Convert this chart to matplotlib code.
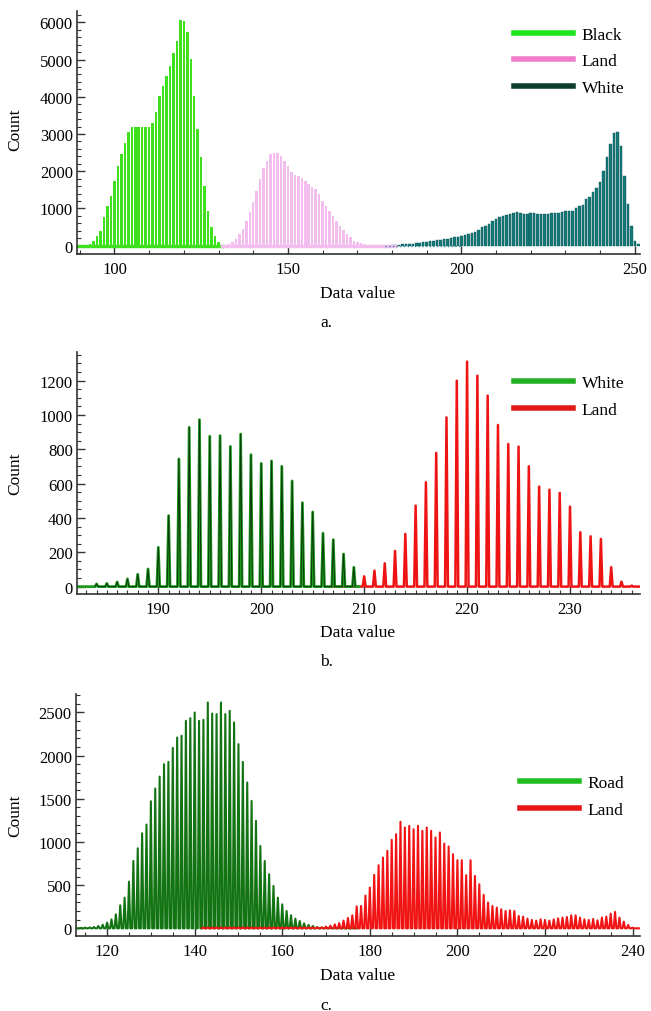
import matplotlib
matplotlib.use("Agg")
import matplotlib.pyplot as plt
import numpy as np
from matplotlib.ticker import MultipleLocator

plt.rcParams['font.family'] = ['Liberation Serif', 'DejaVu Serif']

# ---- panel a : histograms of three classes ----
a_black_x = np.arange(90, 132)
a_black_y = [10, 20, 30, 45, 134, 250, 400, 760, 1075, 1340, 1745, 2150, 2460, 2760,
             3060, 3200, 3200, 3200, 3200, 3200, 3200, 3290, 3580, 4010, 4300, 4570,
             4830, 5165, 5500, 6070, 6040, 5730, 5010, 4030, 3130, 2370, 1610, 940,
             490, 270, 90, 20]
a_land_x = np.arange(132, 181)
a_land_y = [20, 45, 90, 180, 310, 450, 670, 900, 1165, 1480, 1790, 2100, 2280, 2460,
            2500, 2490, 2420, 2280, 2130, 1990, 1900, 1860, 1810, 1750, 1660, 1570,
            1525, 1390, 1210, 1075, 945, 810, 670, 540, 430, 310, 225, 135, 90, 60,
            45, 30, 20, 15, 12, 10, 10, 10, 10]
a_white_x = np.arange(180, 252)
a_white_y = [20, 25, 30, 35, 40, 50, 55, 65, 75, 90, 105, 115, 130, 150, 165, 180,
             190, 210, 225, 240, 255, 290, 320, 350, 380, 430, 490, 530, 580, 660,
             730, 770, 800, 830, 850, 880, 900, 870, 850, 860, 880, 870, 850, 860,
             850, 860, 870, 880, 870, 900, 940, 930, 940, 1000, 1075, 1100, 1250,
             1300, 1430, 1550, 1700, 2000, 2370, 2730, 3040, 3060, 2690, 1880, 1120,
             540, 135, 35]

# ---- panel b ----
b_white_x = np.arange(184, 210)
b_white_y = [16, 19, 27, 45, 72, 103, 229, 414, 744, 928, 973, 876, 880, 817, 889,
             769, 718, 732, 701, 616, 489, 435, 311, 274, 190, 113]
b_land_x = np.arange(210, 237)
b_land_y = [60, 93, 136, 208, 307, 472, 608, 779, 986, 1200, 1311, 1229, 1113, 942,
            831, 816, 701, 583, 565, 546, 466, 317, 293, 278, 113, 29, 6]

# ---- panel c ----
c_road_x = np.arange(114, 177)
c_road_y = [5, 8, 10, 15, 27, 42, 66, 104, 162, 267, 355, 541, 780, 927, 1101, 1202,
            1472, 1619, 1758, 1901, 1928, 2090, 2210, 2230, 2403, 2434, 2500, 2403,
            2415, 2616, 2488, 2481, 2616, 2481, 2519, 2384, 2133, 1928, 1689, 1476,
            1244, 954, 780, 626, 491, 355, 278, 201, 151, 112, 85, 58, 39, 27, 15,
            10, 8, 6, 5, 5, 4, 3, 3]
c_land_x = np.arange(142, 241)
c_land_y = [10] * 28 + [20, 30, 45, 60, 90, 120] + [
    151, 255, 259, 379, 472, 619, 731, 820, 897, 1025, 1090, 1234, 1168, 1187,
    1148, 1187, 1129, 1168, 1129, 1052, 1110, 982, 948, 858, 789, 789, 615, 789,
    607, 510, 387, 298, 259, 240, 220, 201, 209, 201, 143, 135, 112, 97, 89, 104,
    97, 89, 104, 116, 124, 131, 151, 151, 124, 104, 97, 108, 93, 124, 135, 170,
    190, 124, 77, 39, 8]


def spikes(x, y, half=0.15):
    # each count drawn as a narrow triangle sitting on zero
    xs, ys = [], []
    for xi, yi in zip(x, y):
        xs += [xi - half, xi, xi + half]
        ys += [0, yi, 0]
    return np.array(xs), np.array(ys)


def style(ax, xlim, ylim, xmaj, xmin, ymaj, ymin):
    ax.set_xlim(*xlim)
    ax.set_ylim(*ylim)
    for s in ['top', 'right']:
        ax.spines[s].set_visible(False)
    for s in ['left', 'bottom']:
        ax.spines[s].set_color('#333333')
        ax.spines[s].set_linewidth(1.2)
    ax.xaxis.set_major_locator(MultipleLocator(xmaj))
    ax.xaxis.set_minor_locator(MultipleLocator(xmin))
    ax.yaxis.set_major_locator(MultipleLocator(ymaj))
    ax.yaxis.set_minor_locator(MultipleLocator(ymin))
    ax.tick_params(which='both', direction='in', labelsize=12, colors='#333333',
                   labelcolor='black')
    ax.tick_params(which='major', length=6, width=1.0, pad=5)
    ax.tick_params(which='minor', length=3, width=0.8)
    ax.tick_params(axis='y', which='major', pad=3)


def legend(ax, y):
    ax.legend(loc='upper right', bbox_to_anchor=(1.0, y), frameon=False,
              fontsize=12.5, handlelength=3.4, handletextpad=0.5, labelspacing=0.6)


W, H = 651, 1012
fig = plt.figure(figsize=(W / 100, H / 100), dpi=100)


def box(left, top, right, bottom):
    return [left / W, 1 - bottom / H, (right - left) / W, (bottom - top) / H]


# panel a
ax = fig.add_axes(box(77, 12, 640, 255))
ax.bar(a_black_x, a_black_y, width=0.72, color='#3fe01e', linewidth=0)
ax.bar(a_land_x, a_land_y, width=0.72, color='#f4bdef', linewidth=0)
ax.bar(a_white_x, a_white_y, width=0.72, color='#15797a', edgecolor='#0d5654',
       linewidth=0.3)
ax.plot([89.5, 131], [0, 0], color='#3fe01e', lw=2.5)
ax.plot([131, 181], [0, 0], color='#f4bdef', lw=2.5)
ax.plot([178, 200], [0, 0], color='#2a8a9a', lw=1.0, ls=':')
ax.plot([], [], color='#1ee61e', lw=4, label='Black')
ax.plot([], [], color='#f07ccc', lw=4, label='Land')
ax.plot([], [], color='#0b3d2c', lw=4, label='White')
style(ax, (89.2, 251.5), (-223, 6304), 50, 10, 1000, 200)
legend(ax, 1.0)

# panel b
ax = fig.add_axes(box(77, 353, 640, 595))
xs, ys = spikes(b_land_x, b_land_y, 0.14)
ax.plot(np.r_[207, xs, 237], np.r_[0, ys, 0], color='#ee1414', lw=1.8)
xs, ys = spikes(b_white_x, b_white_y, 0.14)
ax.plot(np.r_[182, xs, 209.5], np.r_[0, ys, 0], color='#1f9a1f', lw=2.0)
ax.plot(xs, ys, color='#0a3a0a', lw=0.7)
ax.plot([], [], color='#22b022', lw=4, label='White')
ax.plot([], [], color='#e01818', lw=4, label='Land')
style(ax, (182.1, 236.8), (-43, 1367), 10, 1, 200, 50)
legend(ax, 0.97)

# panel c
ax = fig.add_axes(box(76, 695, 640, 937))
xs, ys = spikes(c_road_x, c_road_y, 0.3)
ax.plot(np.r_[112.9, xs, 177], np.r_[0, ys, 0], color='#137413', lw=1.5)
xs, ys = spikes(c_land_x, c_land_y, 0.3)
ax.plot(np.r_[xs, 241.7], np.r_[ys, 0], color='#f01414', lw=1.5)
ax.plot([], [], color='#22bb22', lw=4, label='Road')
ax.plot([], [], color='#e81616', lw=4, label='Land')
style(ax, (112.9, 241.7), (-89, 2714), 20, 5, 500, 100)
legend(ax, 0.73)

# axis titles and captions
for yc, yl, ycap, cap in [(130, 294, 323, 'a.'), (474, 633, 662, 'b.'),
                          (816, 976, 1006, 'c.')]:
    fig.text(15 / W, 1 - yc / H, 'Count', rotation=90, fontsize=12.5,
             ha='center', va='center')
    fig.text(358 / W, 1 - yl / H, 'Data value', fontsize=12.5, ha='center',
             va='center')
    fig.text(326 / W, 1 - ycap / H, cap, fontsize=12.5, ha='center', va='center')

fig.savefig('out.png', dpi=100)
